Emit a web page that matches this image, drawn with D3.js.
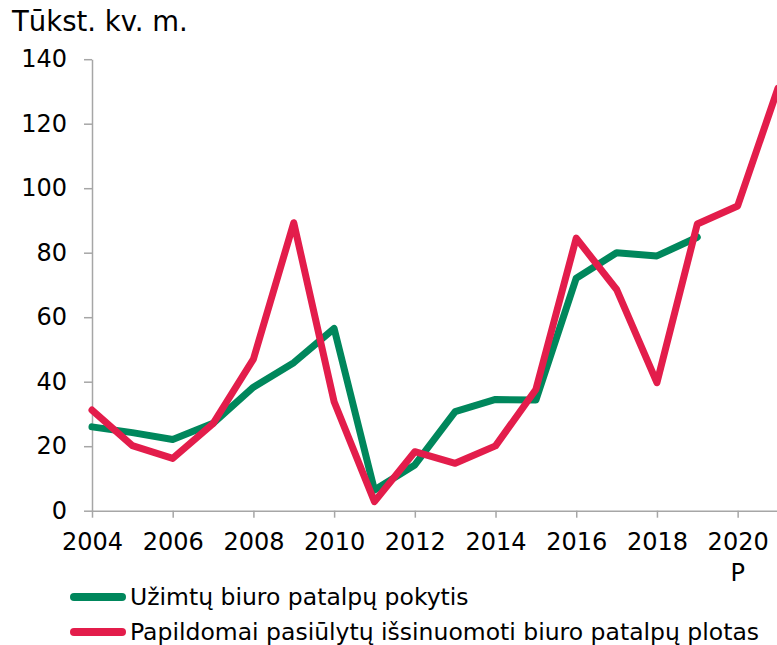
<!DOCTYPE html>
<html><head><meta charset="utf-8">
<script src="https://cdn.jsdelivr.net/npm/d3@7"></script>
<style>body{margin:0;background:#fff}svg{display:block}text{font-family:"DejaVu Sans",Verdana,sans-serif}</style>
</head><body>
<svg id="c" width="777" height="645"></svg>
<script>
const years = [2004,2005,2006,2007,2008,2009,2010,2011,2012,2013,2014,2015,2016,2017,2018,2019,2020,2021];
const occupied = [26.0,24.2,22.1,27.1,38.3,45.9,56.5,6.4,14.2,30.7,34.5,34.3,72.1,80.0,79.0,84.8,null,null];
const supplied = [31.2,20.2,16.2,27.0,47.0,89.3,33.8,2.8,18.3,14.7,20.1,37.6,84.5,68.6,39.7,88.9,94.5,131.0];
const yTicks = [0,20,40,60,80,100,120,140];
const xTicks = [2004,2006,2008,2010,2012,2014,2016,2018,2020];
const seriesNames = ["Užimtų biuro patalpų pokytis","Papildomai pasiūlytų išsinuomoti biuro patalpų plotas"];
const colors = ["#00875c","#e31d4b"];
const unitLabel = "Tūkst. kv. m.";
const forecastLabel = "P";

const svg = d3.select("#c");
const x = d3.scaleLinear().domain([2004,2021]).range([92, 778]);
const y = d3.scaleLinear().domain([0,140]).range([510.7, 59.2]);
const axisColor = "#a6a6a6";
const fs = 24;

const gy = svg.append("g").attr("transform","translate(92,0)")
  .call(d3.axisLeft(y).tickValues(yTicks).tickSize(8).tickSizeOuter(0).tickPadding(17));
const gx = svg.append("g").attr("transform","translate(0,510.7)")
  .call(d3.axisBottom(x).tickValues(xTicks).tickFormat(d3.format("d")).tickSize(7).tickSizeOuter(0).tickPadding(15));
[gx,gy].forEach(g=>{
  g.selectAll("path.domain").attr("stroke",axisColor).attr("stroke-width",1.5);
  g.selectAll(".tick line").attr("stroke",axisColor).attr("stroke-width",1.5);
  g.selectAll(".tick text").attr("fill","#000").style("font-size",fs+"px").style("font-family","'DejaVu Sans',Verdana,sans-serif");
});

svg.append("text").attr("x",x(2020)).attr("y",581).attr("text-anchor","middle")
  .style("font-size",fs+"px").text(forecastLabel);
svg.append("text").attr("x",12).attr("y",31).style("font-size","27.5px").text(unitLabel);

const line = d3.line().defined(d=>d[1]!=null).x(d=>x(d[0])).y(d=>y(d[1]));
[occupied, supplied].forEach((s,i)=>{
  svg.append("path").datum(years.map((yr,j)=>[yr,s[j]]))
    .attr("d",line).attr("fill","none").attr("stroke",colors[i])
    .attr("stroke-width",7).attr("stroke-linejoin","round").attr("stroke-linecap","round");
});

const legY = [597, 632];
seriesNames.forEach((n,i)=>{
  svg.append("line").attr("x1",74).attr("x2",122).attr("y1",legY[i]).attr("y2",legY[i])
    .attr("stroke",colors[i]).attr("stroke-width",8).attr("stroke-linecap","round");
  svg.append("text").attr("x",130).attr("y",legY[i]).attr("dy","0.36em")
    .style("font-size","23.5px").text(n);
});
</script>
</body></html>
